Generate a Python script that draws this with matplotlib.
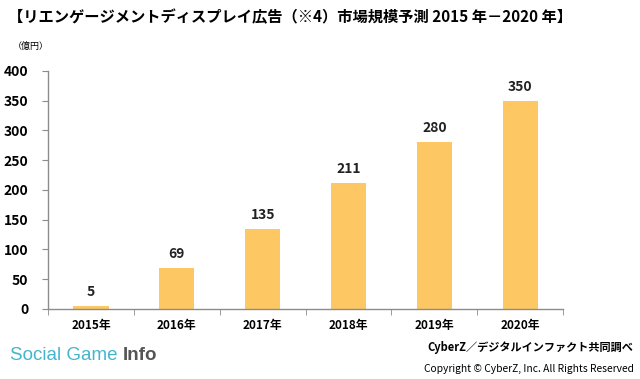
import matplotlib
matplotlib.use('Agg')
from matplotlib import pyplot as plt
import numpy as np

plt.rcParams['font.family'] = ['Noto Sans CJK JP', 'DejaVu Sans']

years = ['2015年', '2016年', '2017年', '2018年', '2019年', '2020年']
values = [5, 69, 135, 211, 280, 350]
y_ticks = [0, 50, 100, 150, 200, 250, 300, 350, 400]

bar_color = '#FDC864'
axis_color = '#8C8C8C'

fig = plt.figure(figsize=(6.4, 3.79), dpi=100)
ax = fig.add_axes([0.075, 0.185, 0.805, 0.628])

x = np.arange(len(years))
ax.bar(x, values, width=0.41, color=bar_color, zorder=2)

for xi, v in zip(x, values):
    ax.annotate(str(v), xy=(xi, v), xytext=(0, 14), textcoords='offset pixels',
                ha='center', va='center', fontsize=10, fontweight='bold',
                color='#222222')

ax.set_xlim(-0.5, len(years) - 0.5)
ax.set_ylim(0, 400)
ax.set_yticks(y_ticks)
ax.set_yticklabels([str(t) for t in y_ticks], fontsize=10, fontweight='bold')

# category labels centered, ticks at category boundaries
ax.set_xticks(x)
ax.set_xticklabels(years, fontsize=8.5, fontweight='bold')
ax.tick_params(axis='x', length=0, pad=7)
ax.set_xticks(np.arange(len(years) + 1) - 0.5, minor=True)
ax.tick_params(axis='x', which='minor', length=4, color=axis_color, direction='out')
ax.tick_params(axis='y', length=4, color=axis_color, direction='out', pad=10)

for side in ['top', 'right']:
    ax.spines[side].set_visible(False)
for side in ['left', 'bottom']:
    ax.spines[side].set_color(axis_color)
    ax.spines[side].set_linewidth(1)

fig.text(0.012, 0.955, '【リエンゲージメントディスプレイ広告（※4）市場規模予測 2015 年－2020 年】',
         fontsize=11, fontweight='bold', ha='left', va='center')
fig.text(0.02, 0.877, '（億円）', fontsize=6.5, ha='left', va='center')

logo = fig.text(0.016, 0.063, 'Social Game ', fontsize=13.5, color='#45B5CC',
                fontfamily='Liberation Sans', ha='left', va='center')
fig.canvas.draw()
logo_box = logo.get_window_extent()
fig.text(logo_box.x1 / fig.bbox.width, 0.063, 'Info', fontsize=13.5, color='#555555',
         fontweight='bold', fontfamily='Liberation Sans', ha='left', va='center')

fig.text(0.99, 0.083, 'CyberZ／デジタルインファクト共同調べ', fontsize=8,
         fontweight='bold', ha='right', va='center')
fig.text(0.99, 0.027, 'Copyright © CyberZ, Inc. All Rights Reserved', fontsize=7.4,
         ha='right', va='center')

fig.savefig('out.png', dpi=100)
